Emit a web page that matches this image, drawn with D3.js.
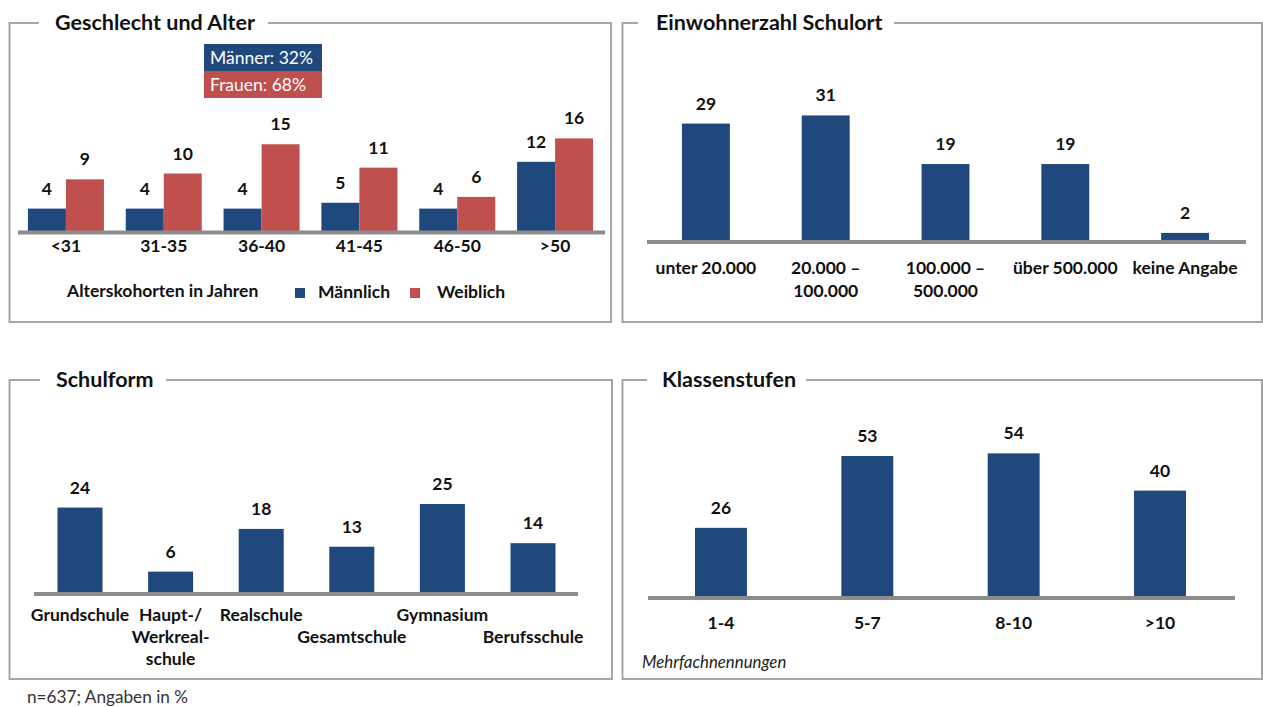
<!DOCTYPE html>
<html><head><meta charset="utf-8">
<script src="https://cdn.jsdelivr.net/npm/d3@7"></script>
<style>
html,body{margin:0;padding:0;background:#fff;}
svg{display:block;font-family:Lato,"Liberation Sans",sans-serif;}
</style></head>
<body>
<svg id="chart" width="1263" height="707"></svg>
<script>
// ---------- DATA ----------
const ageCategories = ["<31","31-35","36-40","41-45","46-50",">50"];
const maleValues   = [4,4,4,5,4,12];
const femaleValues = [9,10,15,11,6,16];
const genderSeries = ["Männlich","Weiblich"];
const genderShares = ["Männer: 32%","Frauen: 68%"];

const townCategories = [["unter 20.000"],["20.000 –","100.000"],["100.000 –","500.000"],["über 500.000"],["keine Angabe"]];
const townValues = [29,31,19,19,2];

const schoolCategories = [["Grundschule"],["Haupt-/","Werkreal-","schule"],["Realschule"],["","Gesamtschule"],["Gymnasium"],["","Berufsschule"]];
const schoolValues = [24,6,18,13,25,14];

const gradeCategories = ["1-4","5-7","8-10",">10"];
const gradeValues = [26,53,54,40];

const titles = ["Geschlecht und Alter","Einwohnerzahl Schulort","Schulform","Klassenstufen"];
const footnote = "n=637; Angaben in %";
const gradeNote = "Mehrfachnennungen";
const axisTitle = "Alterskohorten in Jahren";

// ---------- STYLE ----------
const BLUE = "#1F497D", RED = "#C0504D", AXIS = "#8C8C8C", FRAME = "#A6A6A6", TXT = "#111";
const FS = 17.5;
const svg = d3.select("#chart");

function frame(x0,y0,x1,y1,gapA,gapB,title,titleX){
  svg.append("path")
    .attr("d",`M${gapA},${y0} H${x0} V${y1} H${x1} V${y0} H${gapB}`)
    .attr("fill","none").attr("stroke",FRAME).attr("stroke-width",2);
  svg.append("text").attr("x",titleX).attr("y",y0+6.5)
    .attr("font-size",21.5).attr("font-weight",700).attr("fill",TXT).text(title);
}
function axisLine(x0,x1,y){
  svg.append("line").attr("x1",x0).attr("x2",x1).attr("y1",y).attr("y2",y)
    .attr("stroke",AXIS).attr("stroke-width",4);
}
function valueLabel(x,y,v){
  svg.append("text").attr("x",x).attr("y",y-14).attr("text-anchor","middle")
    .attr("font-size",FS).attr("font-weight",700).attr("fill",TXT).text(v);
}
function catLabel(x,y,lines,lh){
  const t = svg.append("text").attr("x",x).attr("y",y).attr("text-anchor","middle")
    .attr("font-size",FS).attr("font-weight",700).attr("fill",TXT);
  lines.forEach((l,i)=>t.append("tspan").attr("x",x).attr("y",y+i*lh).text(l));
}

// ---------- PANEL 1 ----------
frame(9.5,23,611,322,39,268,titles[0],55);
{
  const base = 232;
  const x0 = d3.scaleBand().domain(ageCategories).range([17,604]).paddingInner(0.223).paddingOuter(0.1115);
  const x1 = d3.scaleBand().domain(genderSeries).range([0,x0.bandwidth()]);
  const y = d3.scaleLinear().domain([0,20]).range([base, base-117]);
  const color = d3.scaleOrdinal().domain(genderSeries).range([BLUE,RED]);
  const rows = ageCategories.map((c,i)=>({c, vals:[{s:genderSeries[0],v:maleValues[i]},{s:genderSeries[1],v:femaleValues[i]}]}));
  const g = svg.append("g");
  rows.forEach(r=>{
    r.vals.forEach(d=>{
      const bx = x0(r.c)+x1(d.s);
      g.append("rect").attr("x",bx).attr("y",y(d.v)).attr("width",x1.bandwidth()).attr("height",base-y(d.v))
        .attr("fill",color(d.s));
      valueLabel(bx+x1.bandwidth()/2, y(d.v), d.v);
    });
    catLabel(x0(r.c)+x0.bandwidth()/2, 252, [r.c], 20);
  });
  axisLine(18,605,base+0.5);
  // share box
  const boxColors=[BLUE,RED];
  genderShares.forEach((s,i)=>{
    svg.append("rect").attr("x",204).attr("y",44+i*27).attr("width",118).attr("height",27).attr("fill",boxColors[i]);
    svg.append("text").attr("x",210).attr("y",64+i*27).attr("font-size",17.5).attr("fill","#fff").text(s);
  });
  // axis title + legend
  svg.append("text").attr("x",67).attr("y",297).attr("font-size",FS).attr("font-weight",700).attr("fill",TXT).text(axisTitle);
  const legX=[295,410], legTX=[318,437];
  genderSeries.forEach((s,i)=>{
    svg.append("rect").attr("x",legX[i]).attr("y",288).attr("width",10).attr("height",10).attr("fill",color(s));
    svg.append("text").attr("x",legTX[i]).attr("y",298).attr("font-size",FS).attr("font-weight",700).attr("fill",TXT).text(s);
  });
}

// ---------- generic single-series panel ----------
function singlePanel(cats, vals, rangeX, pad, base, maxV, spanPx, labelY, lh, axisX){
  const keys = cats.map((c,i)=>i);
  const x = d3.scaleBand().domain(keys).range(rangeX).paddingInner(pad).paddingOuter(pad/2);
  const y = d3.scaleLinear().domain([0,maxV]).range([base, base-spanPx]);
  keys.forEach(i=>{
    svg.append("rect").attr("x",x(i)).attr("y",y(vals[i])).attr("width",x.bandwidth()).attr("height",base-y(vals[i])).attr("fill",BLUE);
    const cx = x(i)+x.bandwidth()/2;
    valueLabel(cx, y(vals[i]), vals[i]);
    const lines = Array.isArray(cats[i])?cats[i]:[cats[i]];
    catLabel(cx, labelY, lines, lh);
  });
  axisLine(axisX[0],axisX[1],base+1);
}

// ---------- PANEL 2 ----------
frame(622.5,23,1262,322,638,894,titles[1],656);
singlePanel(townCategories, townValues, [646,1245], 0.6, 241, 40, 162, 274, 23, [647,1246]);

// ---------- PANEL 3 ----------
frame(9.5,380,612,679,40,166,titles[2],56);
singlePanel(schoolCategories, schoolValues, [34.7,578.3], 0.503, 593, 30, 106.8, 621, 22, [34,578]);
svg.append("text").attr("x",27).attr("y",703).attr("font-size",17.2).attr("fill","#333").text(footnote);

// ---------- PANEL 4 ----------
frame(622.5,380,1262,679,647,806,titles[3],662);
singlePanel(gradeCategories, gradeValues, [647.8,1233.2], 0.645, 597, 60, 159.6, 629, 22, [648,1235]);
svg.append("text").attr("x",642).attr("y",668).attr("font-size",16.8).attr("font-style","italic").attr("fill","#222").text(gradeNote);
</script>
</body></html>
